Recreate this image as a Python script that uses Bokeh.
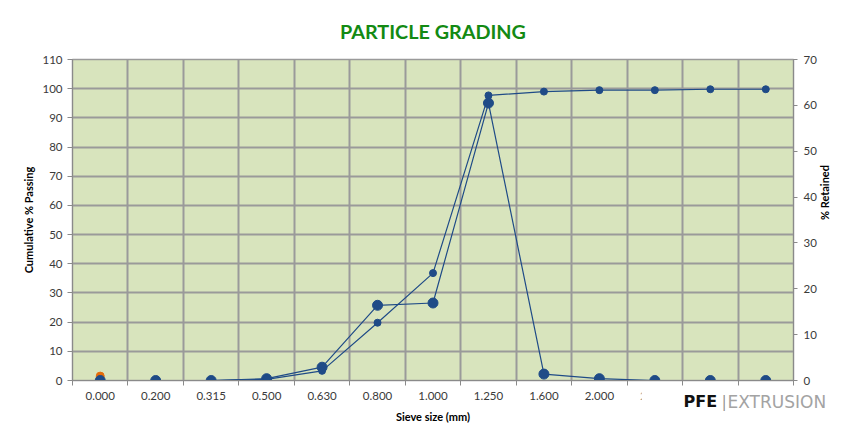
import math
from bokeh.plotting import figure
from bokeh.models import Range1d, LinearAxis, FixedTicker, Title
from bokeh.embed import file_html
from bokeh.resources import INLINE

# ---- data ----
sieve_labels = ["0.000", "0.200", "0.315", "0.500", "0.630", "0.800", "1.000",
                "1.250", "1.600", "2.000", "2.500", "3.150", "4.000"]
cumulative_passing = [0, 0, 0, 0.4, 3.3, 19.8, 36.8, 97.7, 99.0, 99.5, 99.5, 99.8, 99.8]
percent_retained = [0, 0, 0, 0.4, 2.9, 16.4, 16.9, 60.5, 1.4, 0.4, 0, 0, 0]
orange_labels = ["0.000"]
orange_values = [1.5]
left_ticks = list(range(0, 111, 10))
right_ticks = list(range(0, 71, 10))

xpos = list(range(len(sieve_labels)))
orange_x = [sieve_labels.index(s) for s in orange_labels]
boundaries = [i - 0.5 for i in range(len(sieve_labels) + 1)]

FONT = "Lato"
NAVY = "#1f4b87"
GRID = "#9a9a9a"
AXIS = "#8a8a8a"
TXT = "#3a3a3a"

p = figure(width=840, height=430, output_backend="svg", toolbar_location=None,
           x_range=Range1d(boundaries[0], boundaries[-1]), y_range=Range1d(0, 110),
           min_border_left=72, min_border_right=43, min_border_top=59, min_border_bottom=50,
           background_fill_color="#d8e4bd", border_fill_color="white")
p.extra_y_ranges = {"ret": Range1d(0, 70)}

p.title.text = "PARTICLE GRADING"
p.title.align = "center"
p.title.text_font = FONT
p.title.text_font_style = "bold"
p.title.text_font_size = "19.8px"
p.title.text_color = "#138a13"
p.title.standoff = 33

p.outline_line_color = GRID
p.outline_line_width = 1.5

# grids
p.xgrid.ticker = FixedTicker(ticks=boundaries[1:-1])
p.xgrid.grid_line_color = GRID
p.xgrid.grid_line_width = 2
p.ygrid.ticker = FixedTicker(ticks=left_ticks)
p.ygrid.grid_line_color = GRID
p.ygrid.grid_line_width = 2

# x axis
xa = p.xaxis[0]
xa.ticker = FixedTicker(ticks=xpos, minor_ticks=boundaries)
xa.major_label_overrides = {i: s for i, s in zip(xpos, sieve_labels)}
xa.major_tick_out = 0
xa.major_tick_in = 0
xa.minor_tick_out = 5
xa.minor_tick_in = 0
xa.minor_tick_line_color = AXIS
xa.axis_line_color = AXIS
xa.major_label_standoff = 6
xa.major_label_text_font = FONT
xa.major_label_text_font_size = "11.5px"
xa.major_label_text_color = TXT
xa.axis_label = "Sieve size (mm)"
xa.axis_label_text_font = FONT
xa.axis_label_text_font_size = "11px"
xa.axis_label_text_font_style = "bold"
xa.axis_label_text_color = "black"
xa.axis_label_standoff = 7

# left axis
ya = p.yaxis[0]
ya.ticker = FixedTicker(ticks=left_ticks)
ya.major_tick_out = 5
ya.major_tick_in = 0
ya.minor_tick_out = 0
ya.minor_tick_in = 0
ya.major_tick_line_color = AXIS
ya.axis_line_color = AXIS
ya.major_label_standoff = 5
ya.major_label_text_font = FONT
ya.major_label_text_font_size = "11.5px"
ya.major_label_text_color = TXT
ya.axis_label = "Cumulative % Passing"
ya.axis_label_text_font = FONT
ya.axis_label_text_font_size = "11px"
ya.axis_label_text_font_style = "bold"
ya.axis_label_text_color = "black"
ya.axis_label_standoff = 4

# right axis
ra = LinearAxis(y_range_name="ret", ticker=FixedTicker(ticks=right_ticks),
                axis_label="% Retained")
ra.major_tick_out = 4
ra.major_tick_in = 0
ra.minor_tick_out = 0
ra.minor_tick_in = 0
ra.major_tick_line_color = AXIS
ra.axis_line_color = AXIS
ra.major_label_standoff = 6
ra.major_label_text_font = FONT
ra.major_label_text_font_size = "11.5px"
ra.major_label_text_color = TXT
ra.axis_label_text_font = FONT
ra.axis_label_text_font_size = "11px"
ra.axis_label_text_font_style = "bold"
ra.axis_label_text_color = "black"
ra.axis_label_standoff = 5
ra.axis_label_orientation = math.pi / 2
p.add_layout(ra, "right")

# series
p.scatter(orange_x, orange_values, size=8, marker="circle",
          fill_color="#e46c0a", line_color="#e46c0a")

p.line(xpos, percent_retained, y_range_name="ret", line_color=NAVY, line_width=1.2)
p.scatter(xpos, percent_retained, y_range_name="ret", size=10, marker="circle",
          fill_color=NAVY, line_color=NAVY)

p.line(xpos, cumulative_passing, line_color=NAVY, line_width=1.2)
p.scatter(xpos, cumulative_passing, size=7, marker="circle",
          fill_color=NAVY, line_color=NAVY)


# logo below the plot (covers the last tick labels, as in the reference)
def logo_part(text, offset, standoff, color, style, size, font, pad):
    t = Title(text=text, align="left", offset=offset, vertical_align="top",
              text_font=font, text_font_style=style, text_font_size=size,
              text_color=color, background_fill_color="white")
    t.standoff = standoff
    try:
        t.padding = pad
    except Exception:
        pass
    p.add_layout(t, "below")
    return t


logo_part("PFE", 569, -76, "#111111", "bold", "16px", "DejaVu Sans",
          dict(left=42, right=4, top=4, bottom=4))
logo_part("|", 646, -76, "#9a9a9a", "normal", "16px", "DejaVu Sans",
          dict(left=3, right=3, top=4, bottom=4))
logo_part("EXTRUSION", 653, -76, "#a3a3a3", "normal", "17px", "DejaVu Sans",
          dict(left=2, right=6, top=4, bottom=4))

open("out.html", "w").write(file_html(p, INLINE))
